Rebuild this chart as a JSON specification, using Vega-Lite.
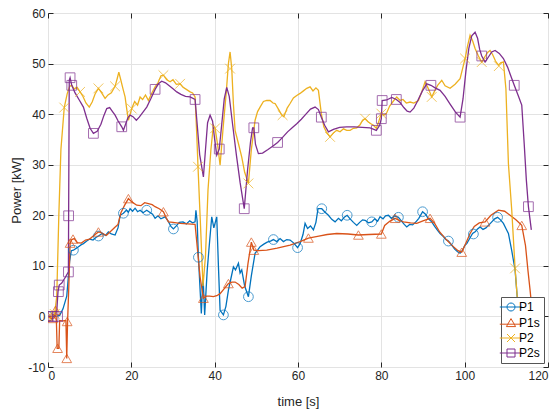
{
  "$schema": "https://vega.github.io/schema/vega-lite/v6.json",
  "width": 500,
  "height": 354,
  "autosize": {"type": "none"},
  "padding": {"left": 48, "top": 13, "right": 10, "bottom": 47},
  "background": "white",
  "config": {
    "font": "Liberation Sans",
    "view": {"stroke": "#262626", "strokeWidth": 1},
    "axis": {
      "grid": true,
      "gridColor": "#e3e3e3",
      "gridWidth": 1,
      "domain": false,
      "tickColor": "#262626",
      "tickSize": -5,
      "labelFontSize": 12,
      "labelColor": "#262626",
      "labelFont": "Liberation Sans",
      "titleFontSize": 13,
      "titleColor": "#262626",
      "titleFontWeight": "normal",
      "titleFont": "Liberation Sans"
    },
    "legend": {
      "orient": "bottom-right", "offset": 4, "padding": 4, "fillColor": "white", "strokeColor": "#555555",
      "labelFontSize": 12, "labelColor": "#000000", "labelFont": "Liberation Sans", "rowPadding": 3, "labelOffset": 2,
      "symbolOpacity": 1, "symbolSize": 64, "symbolStrokeWidth": 1
    }
  },
  "datasets": {
    "lines": [
      {"s":"P1","t":0,"y":0},{"s":"P1","t":1,"y":0},{"s":"P1","t":2,"y":0},{"s":"P1","t":2.8,"y":0.2},{"s":"P1","t":3.6,"y":1.5},{"s":"P1","t":4.5,"y":4},{"s":"P1","t":5.2,"y":11},{"s":"P1","t":5.6,"y":13},{"s":"P1","t":6.1,"y":13.1},{"s":"P1","t":7,"y":13.6},{"s":"P1","t":8,"y":14.2},{"s":"P1","t":8.5,"y":14.4},{"s":"P1","t":9.3,"y":14.9},{"s":"P1","t":10,"y":15.3},{"s":"P1","t":10.8,"y":15.1},{"s":"P1","t":11.5,"y":15.6},{"s":"P1","t":12.1,"y":15.9},{"s":"P1","t":13,"y":16.4},{"s":"P1","t":13.8,"y":16},{"s":"P1","t":14.5,"y":16.7},{"s":"P1","t":15.2,"y":16.3},{"s":"P1","t":16.1,"y":16.1},{"s":"P1","t":16.8,"y":17.5},{"s":"P1","t":17.3,"y":20},{"s":"P1","t":18.1,"y":20.4},{"s":"P1","t":18.8,"y":21},{"s":"P1","t":19.3,"y":20.6},{"s":"P1","t":19.7,"y":21.3},{"s":"P1","t":20.3,"y":20.8},{"s":"P1","t":20.9,"y":21.4},{"s":"P1","t":21.5,"y":20.7},{"s":"P1","t":22.1,"y":21},{"s":"P1","t":22.8,"y":20.5},{"s":"P1","t":23.7,"y":21},{"s":"P1","t":24.4,"y":20.6},{"s":"P1","t":25.1,"y":20.2},{"s":"P1","t":25.7,"y":19.4},{"s":"P1","t":26.4,"y":19.9},{"s":"P1","t":27.1,"y":19.3},{"s":"P1","t":28.1,"y":19.7},{"s":"P1","t":28.8,"y":18.9},{"s":"P1","t":29.5,"y":17.8},{"s":"P1","t":30.1,"y":17.3},{"s":"P1","t":30.8,"y":17.9},{"s":"P1","t":31.5,"y":18.6},{"s":"P1","t":32.4,"y":18.7},{"s":"P1","t":33.2,"y":18.3},{"s":"P1","t":34,"y":18.9},{"s":"P1","t":34.7,"y":18.5},{"s":"P1","t":35.3,"y":18.7},{"s":"P1","t":35.5,"y":21},{"s":"P1","t":35.8,"y":18.8},{"s":"P1","t":36.1,"y":11.7},{"s":"P1","t":36.8,"y":0.6},{"s":"P1","t":37.2,"y":8},{"s":"P1","t":37.6,"y":0.3},{"s":"P1","t":38.2,"y":9},{"s":"P1","t":38.7,"y":14},{"s":"P1","t":39.3,"y":19.7},{"s":"P1","t":39.8,"y":17.5},{"s":"P1","t":40.5,"y":19.7},{"s":"P1","t":40.9,"y":10},{"s":"P1","t":41.3,"y":1.2},{"s":"P1","t":42.1,"y":0.3},{"s":"P1","t":42.7,"y":2},{"s":"P1","t":43.3,"y":5.2},{"s":"P1","t":43.9,"y":7.5},{"s":"P1","t":44.5,"y":9.8},{"s":"P1","t":45,"y":9.2},{"s":"P1","t":45.7,"y":10.5},{"s":"P1","t":46.1,"y":8.6},{"s":"P1","t":46.5,"y":9.2},{"s":"P1","t":47.2,"y":6},{"s":"P1","t":48.1,"y":3.9},{"s":"P1","t":48.8,"y":8},{"s":"P1","t":49.7,"y":12.5},{"s":"P1","t":50.3,"y":13.1},{"s":"P1","t":50.9,"y":13.8},{"s":"P1","t":51.8,"y":14.3},{"s":"P1","t":52.6,"y":14.7},{"s":"P1","t":53.4,"y":14.9},{"s":"P1","t":54.1,"y":15.2},{"s":"P1","t":54.9,"y":14.8},{"s":"P1","t":55.7,"y":15.4},{"s":"P1","t":56.5,"y":14.8},{"s":"P1","t":57.3,"y":15.2},{"s":"P1","t":58.1,"y":15.1},{"s":"P1","t":59,"y":14.5},{"s":"P1","t":59.9,"y":13.6},{"s":"P1","t":60.5,"y":14.4},{"s":"P1","t":61.2,"y":16.2},{"s":"P1","t":61.7,"y":18.4},{"s":"P1","t":62.3,"y":17.4},{"s":"P1","t":63,"y":17.9},{"s":"P1","t":63.7,"y":17.1},{"s":"P1","t":64.3,"y":18.6},{"s":"P1","t":64.8,"y":21.3},{"s":"P1","t":65.7,"y":21.3},{"s":"P1","t":66.5,"y":20.6},{"s":"P1","t":67.3,"y":20},{"s":"P1","t":68.1,"y":19.2},{"s":"P1","t":68.9,"y":18.7},{"s":"P1","t":69.7,"y":19.4},{"s":"P1","t":70.4,"y":18.9},{"s":"P1","t":71.1,"y":19.6},{"s":"P1","t":71.8,"y":20},{"s":"P1","t":72.5,"y":19.3},{"s":"P1","t":73.3,"y":18.6},{"s":"P1","t":74.1,"y":18},{"s":"P1","t":74.8,"y":18.6},{"s":"P1","t":75.5,"y":19.1},{"s":"P1","t":76.1,"y":19},{"s":"P1","t":76.9,"y":18.5},{"s":"P1","t":77.7,"y":18.7},{"s":"P1","t":78.4,"y":19.3},{"s":"P1","t":79.1,"y":18.8},{"s":"P1","t":79.7,"y":19.7},{"s":"P1","t":80.4,"y":19.3},{"s":"P1","t":81,"y":19.9},{"s":"P1","t":81.7,"y":20},{"s":"P1","t":82.4,"y":19.4},{"s":"P1","t":83.2,"y":19.9},{"s":"P1","t":84.1,"y":19.6},{"s":"P1","t":84.8,"y":18.9},{"s":"P1","t":85.5,"y":18.2},{"s":"P1","t":86.1,"y":17.7},{"s":"P1","t":86.8,"y":18.2},{"s":"P1","t":87.5,"y":18.1},{"s":"P1","t":88.2,"y":18.6},{"s":"P1","t":89,"y":19.4},{"s":"P1","t":89.9,"y":20.7},{"s":"P1","t":90.6,"y":20.2},{"s":"P1","t":91.3,"y":19.3},{"s":"P1","t":92.1,"y":18.7},{"s":"P1","t":92.8,"y":17.8},{"s":"P1","t":93.5,"y":17},{"s":"P1","t":94.1,"y":16.4},{"s":"P1","t":94.9,"y":15.8},{"s":"P1","t":95.5,"y":15.2},{"s":"P1","t":96.1,"y":14.9},{"s":"P1","t":96.9,"y":14.1},{"s":"P1","t":97.6,"y":13.3},{"s":"P1","t":98.3,"y":12.8},{"s":"P1","t":98.9,"y":12.5},{"s":"P1","t":99.5,"y":13.1},{"s":"P1","t":100,"y":14},{"s":"P1","t":100.5,"y":14.4},{"s":"P1","t":101.2,"y":15.4},{"s":"P1","t":101.9,"y":16.4},{"s":"P1","t":102.6,"y":16.8},{"s":"P1","t":103.1,"y":17.3},{"s":"P1","t":103.7,"y":17.7},{"s":"P1","t":104.4,"y":17.2},{"s":"P1","t":105.1,"y":17.5},{"s":"P1","t":105.7,"y":18},{"s":"P1","t":106.4,"y":18.6},{"s":"P1","t":107.2,"y":19.3},{"s":"P1","t":107.9,"y":19.6},{"s":"P1","t":108.6,"y":19.1},{"s":"P1","t":109.3,"y":18.4},{"s":"P1","t":109.9,"y":17.4},{"s":"P1","t":110.5,"y":16.4},{"s":"P1","t":111.3,"y":13},{"s":"P1","t":112.1,"y":9.2},{"s":"P1","t":112.6,"y":4},{"s":"P1","t":113,"y":0.5},
      {"s":"P1s","t":0,"y":0},{"s":"P1s","t":0.8,"y":-0.4},{"s":"P1s","t":1.5,"y":-0.3},{"s":"P1s","t":1.8,"y":1.2},{"s":"P1s","t":2.0,"y":-0.5},{"s":"P1s","t":2.2,"y":-6.3},{"s":"P1s","t":2.6,"y":-6.3},{"s":"P1s","t":2.8,"y":-0.8},{"s":"P1s","t":3.5,"y":-0.9},{"s":"P1s","t":4.3,"y":-0.8},{"s":"P1s","t":4.5,"y":-8.3},{"s":"P1s","t":4.7,"y":-1.0},{"s":"P1s","t":5.0,"y":6},{"s":"P1s","t":5.3,"y":14.5},{"s":"P1s","t":5.7,"y":15.2},{"s":"P1s","t":6.3,"y":15.4},{"s":"P1s","t":7,"y":14.6},{"s":"P1s","t":8,"y":14.5},{"s":"P1s","t":9,"y":15.1},{"s":"P1s","t":10,"y":15.3},{"s":"P1s","t":11,"y":16},{"s":"P1s","t":12.1,"y":16.7},{"s":"P1s","t":13,"y":16.5},{"s":"P1s","t":14,"y":16},{"s":"P1s","t":15,"y":16.8},{"s":"P1s","t":16,"y":17.6},{"s":"P1s","t":16.8,"y":18.2},{"s":"P1s","t":17.5,"y":20.5},{"s":"P1s","t":18.4,"y":22},{"s":"P1s","t":19.3,"y":23.3},{"s":"P1s","t":20.2,"y":22.6},{"s":"P1s","t":21.3,"y":22},{"s":"P1s","t":22.3,"y":21.9},{"s":"P1s","t":23.2,"y":22.5},{"s":"P1s","t":24.1,"y":22.3},{"s":"P1s","t":25,"y":22.1},{"s":"P1s","t":25.7,"y":21.7},{"s":"P1s","t":26.7,"y":21.3},{"s":"P1s","t":27.7,"y":20.7},{"s":"P1s","t":28.3,"y":19.6},{"s":"P1s","t":28.9,"y":18.7},{"s":"P1s","t":30,"y":18.6},{"s":"P1s","t":31.7,"y":18.4},{"s":"P1s","t":33.5,"y":18.3},{"s":"P1s","t":35.3,"y":18.2},{"s":"P1s","t":35.9,"y":13},{"s":"P1s","t":36.5,"y":7.8},{"s":"P1s","t":37.3,"y":3.6},{"s":"P1s","t":38,"y":4},{"s":"P1s","t":38.8,"y":4},{"s":"P1s","t":39.7,"y":3.9},{"s":"P1s","t":40.5,"y":4.1},{"s":"P1s","t":41.3,"y":4.5},{"s":"P1s","t":42.3,"y":5.5},{"s":"P1s","t":43.3,"y":6.5},{"s":"P1s","t":44.1,"y":6.8},{"s":"P1s","t":44.9,"y":6.8},{"s":"P1s","t":45.8,"y":6.3},{"s":"P1s","t":46.6,"y":5.6},{"s":"P1s","t":47.3,"y":5.9},{"s":"P1s","t":48,"y":10.5},{"s":"P1s","t":48.8,"y":14.7},{"s":"P1s","t":49.4,"y":13.1},{"s":"P1s","t":50.5,"y":13},{"s":"P1s","t":52.5,"y":13.1},{"s":"P1s","t":55,"y":13.5},{"s":"P1s","t":58.1,"y":14.1},{"s":"P1s","t":60.5,"y":14.8},{"s":"P1s","t":62.5,"y":15.5},{"s":"P1s","t":65,"y":15.9},{"s":"P1s","t":67,"y":16.2},{"s":"P1s","t":69.3,"y":16.4},{"s":"P1s","t":72,"y":16.3},{"s":"P1s","t":74.5,"y":16.1},{"s":"P1s","t":77,"y":16.2},{"s":"P1s","t":80,"y":16.3},{"s":"P1s","t":80.8,"y":18.0},{"s":"P1s","t":82,"y":18.8},{"s":"P1s","t":83.3,"y":19.4},{"s":"P1s","t":84.3,"y":19},{"s":"P1s","t":85.3,"y":18.7},{"s":"P1s","t":87,"y":18.5},{"s":"P1s","t":88.5,"y":18.4},{"s":"P1s","t":90,"y":18.9},{"s":"P1s","t":91.7,"y":19.4},{"s":"P1s","t":92.8,"y":18.4},{"s":"P1s","t":94,"y":16.7},{"s":"P1s","t":95.7,"y":15.1},{"s":"P1s","t":97.3,"y":13.8},{"s":"P1s","t":98.4,"y":13},{"s":"P1s","t":99.3,"y":12.7},{"s":"P1s","t":100.3,"y":14.5},{"s":"P1s","t":101.3,"y":16.4},{"s":"P1s","t":102.3,"y":17.8},{"s":"P1s","t":103.5,"y":18.5},{"s":"P1s","t":104.9,"y":18.7},{"s":"P1s","t":106.3,"y":20},{"s":"P1s","t":108.1,"y":21},{"s":"P1s","t":109.6,"y":20.8},{"s":"P1s","t":110.9,"y":20},{"s":"P1s","t":112.3,"y":19.1},{"s":"P1s","t":113.7,"y":18},{"s":"P1s","t":114.6,"y":14},{"s":"P1s","t":115.2,"y":9},{"s":"P1s","t":115.7,"y":5.2},{"s":"P1s","t":116.2,"y":1},{"s":"P1s","t":116.6,"y":-1},
      {"s":"P2","t":0,"y":0},{"s":"P2","t":1,"y":0},{"s":"P2","t":1.6,"y":0.5},{"s":"P2","t":2.1,"y":4},{"s":"P2","t":2.6,"y":20},{"s":"P2","t":3.1,"y":33},{"s":"P2","t":3.9,"y":41.3},{"s":"P2","t":4.6,"y":44},{"s":"P2","t":5.2,"y":45.5},{"s":"P2","t":5.7,"y":45.7},{"s":"P2","t":6.3,"y":45},{"s":"P2","t":7,"y":45.3},{"s":"P2","t":7.7,"y":44.4},{"s":"P2","t":8.4,"y":43.5},{"s":"P2","t":9.1,"y":42.2},{"s":"P2","t":9.9,"y":41.4},{"s":"P2","t":10.6,"y":42.4},{"s":"P2","t":11.3,"y":44},{"s":"P2","t":12.1,"y":45.1},{"s":"P2","t":12.8,"y":44.3},{"s":"P2","t":13.7,"y":43.1},{"s":"P2","t":14.4,"y":43.8},{"s":"P2","t":15.2,"y":44.2},{"s":"P2","t":16.1,"y":45.5},{"s":"P2","t":16.6,"y":47},{"s":"P2","t":17,"y":48.3},{"s":"P2","t":17.4,"y":47},{"s":"P2","t":18,"y":45},{"s":"P2","t":18.5,"y":43.4},{"s":"P2","t":18.9,"y":41},{"s":"P2","t":19.3,"y":38.8},{"s":"P2","t":20.1,"y":41.1},{"s":"P2","t":20.8,"y":42.5},{"s":"P2","t":21.5,"y":41.8},{"s":"P2","t":22.1,"y":43.4},{"s":"P2","t":22.7,"y":42.9},{"s":"P2","t":23.4,"y":43.8},{"s":"P2","t":24.1,"y":42.7},{"s":"P2","t":24.8,"y":44},{"s":"P2","t":25.7,"y":45.4},{"s":"P2","t":26.4,"y":46.2},{"s":"P2","t":27.1,"y":47.6},{"s":"P2","t":27.7,"y":47.7},{"s":"P2","t":28.5,"y":46.8},{"s":"P2","t":29.3,"y":46.4},{"s":"P2","t":30,"y":46.8},{"s":"P2","t":30.8,"y":45.9},{"s":"P2","t":31.7,"y":46.0},{"s":"P2","t":32.4,"y":45.3},{"s":"P2","t":33.2,"y":44.9},{"s":"P2","t":34.1,"y":44.4},{"s":"P2","t":34.7,"y":44.2},{"s":"P2","t":35.3,"y":43.4},{"s":"P2","t":35.7,"y":36},{"s":"P2","t":36,"y":29.6},{"s":"P2","t":36.6,"y":18},{"s":"P2","t":37.2,"y":6},{"s":"P2","t":37.8,"y":12},{"s":"P2","t":38.4,"y":25},{"s":"P2","t":39.1,"y":33},{"s":"P2","t":39.7,"y":37.8},{"s":"P2","t":40.1,"y":37.2},{"s":"P2","t":40.7,"y":34},{"s":"P2","t":41.3,"y":29.9},{"s":"P2","t":42,"y":37},{"s":"P2","t":42.8,"y":44.5},{"s":"P2","t":43.3,"y":50},{"s":"P2","t":43.7,"y":52.3},{"s":"P2","t":44.1,"y":49},{"s":"P2","t":44.5,"y":42},{"s":"P2","t":44.9,"y":36.8},{"s":"P2","t":45.7,"y":34.2},{"s":"P2","t":46.5,"y":31.5},{"s":"P2","t":47.2,"y":28.5},{"s":"P2","t":48.1,"y":26.3},{"s":"P2","t":48.8,"y":33},{"s":"P2","t":49.7,"y":38.8},{"s":"P2","t":50.3,"y":40.5},{"s":"P2","t":50.9,"y":41.4},{"s":"P2","t":51.7,"y":42.5},{"s":"P2","t":52.5,"y":42.7},{"s":"P2","t":53.3,"y":42.7},{"s":"P2","t":54,"y":42.2},{"s":"P2","t":54.5,"y":42.1},{"s":"P2","t":55.3,"y":41},{"s":"P2","t":56.1,"y":39.8},{"s":"P2","t":56.6,"y":39.5},{"s":"P2","t":57.4,"y":41.2},{"s":"P2","t":58.1,"y":42.1},{"s":"P2","t":58.9,"y":43.2},{"s":"P2","t":59.7,"y":43.7},{"s":"P2","t":60.5,"y":44.1},{"s":"P2","t":61.3,"y":44.6},{"s":"P2","t":62.1,"y":45.1},{"s":"P2","t":62.9,"y":45.4},{"s":"P2","t":63.6,"y":44.6},{"s":"P2","t":64.3,"y":45.2},{"s":"P2","t":64.9,"y":44.7},{"s":"P2","t":65.6,"y":40.1},{"s":"P2","t":66.2,"y":37.5},{"s":"P2","t":66.8,"y":36.5},{"s":"P2","t":67.7,"y":35.5},{"s":"P2","t":68.5,"y":36.3},{"s":"P2","t":69.3,"y":36.8},{"s":"P2","t":70.1,"y":36.5},{"s":"P2","t":70.9,"y":37.1},{"s":"P2","t":71.7,"y":36.8},{"s":"P2","t":72.5,"y":36.8},{"s":"P2","t":73.3,"y":37.2},{"s":"P2","t":74.1,"y":37.3},{"s":"P2","t":74.9,"y":37.9},{"s":"P2","t":75.5,"y":38.8},{"s":"P2","t":76.1,"y":39.1},{"s":"P2","t":76.8,"y":38.5},{"s":"P2","t":77.5,"y":38.1},{"s":"P2","t":78.1,"y":37.8},{"s":"P2","t":78.8,"y":37.2},{"s":"P2","t":79.4,"y":38.6},{"s":"P2","t":80,"y":40.1},{"s":"P2","t":80.6,"y":39.8},{"s":"P2","t":81.2,"y":40.1},{"s":"P2","t":82,"y":41.6},{"s":"P2","t":82.9,"y":42.6},{"s":"P2","t":83.7,"y":43.4},{"s":"P2","t":84.5,"y":42.7},{"s":"P2","t":85.2,"y":42.9},{"s":"P2","t":86,"y":42.2},{"s":"P2","t":86.9,"y":42.4},{"s":"P2","t":87.8,"y":42.2},{"s":"P2","t":88.9,"y":42.7},{"s":"P2","t":89.7,"y":44.4},{"s":"P2","t":90.5,"y":46.4},{"s":"P2","t":91.3,"y":45},{"s":"P2","t":92.1,"y":43.4},{"s":"P2","t":92.8,"y":44.6},{"s":"P2","t":93.6,"y":45.8},{"s":"P2","t":94.5,"y":46.7},{"s":"P2","t":95.3,"y":45.6},{"s":"P2","t":96.5,"y":45.1},{"s":"P2","t":97.7,"y":45.9},{"s":"P2","t":98.9,"y":47},{"s":"P2","t":99.5,"y":49},{"s":"P2","t":100.1,"y":51},{"s":"P2","t":100.7,"y":53.5},{"s":"P2","t":101.3,"y":55.6},{"s":"P2","t":101.9,"y":54.5},{"s":"P2","t":102.5,"y":53},{"s":"P2","t":103.3,"y":51.5},{"s":"P2","t":104.1,"y":50.3},{"s":"P2","t":104.8,"y":51.3},{"s":"P2","t":105.5,"y":52.2},{"s":"P2","t":106.1,"y":52.6},{"s":"P2","t":106.7,"y":51.8},{"s":"P2","t":107.4,"y":50.5},{"s":"P2","t":108.1,"y":49.7},{"s":"P2","t":108.7,"y":50.2},{"s":"P2","t":109.3,"y":50.3},{"s":"P2","t":109.9,"y":45},{"s":"P2","t":110.5,"y":30.2},{"s":"P2","t":111.3,"y":21},{"s":"P2","t":112.1,"y":9.5},{"s":"P2","t":112.6,"y":4},{"s":"P2","t":113,"y":0},
      {"s":"P2s","t":0,"y":0},{"s":"P2s","t":1,"y":0},{"s":"P2s","t":1.6,"y":0},{"s":"P2s","t":2.1,"y":1},{"s":"P2s","t":2.4,"y":4.9},{"s":"P2s","t":2.7,"y":6.2},{"s":"P2s","t":3.3,"y":6.6},{"s":"P2s","t":4.2,"y":7.8},{"s":"P2s","t":4.9,"y":8.8},{"s":"P2s","t":4.95,"y":19.9},{"s":"P2s","t":5.1,"y":46.7},{"s":"P2s","t":5.3,"y":47.2},{"s":"P2s","t":5.7,"y":45.7},{"s":"P2s","t":6.5,"y":44.2},{"s":"P2s","t":7.5,"y":42.8},{"s":"P2s","t":8.5,"y":41.4},{"s":"P2s","t":9.3,"y":39.2},{"s":"P2s","t":10.1,"y":37.2},{"s":"P2s","t":10.9,"y":36.2},{"s":"P2s","t":11.8,"y":36.6},{"s":"P2s","t":12.7,"y":38},{"s":"P2s","t":13.4,"y":39.7},{"s":"P2s","t":14.1,"y":41.1},{"s":"P2s","t":14.8,"y":41.3},{"s":"P2s","t":15.4,"y":40.6},{"s":"P2s","t":16.1,"y":39.8},{"s":"P2s","t":16.8,"y":38.7},{"s":"P2s","t":17.7,"y":37.5},{"s":"P2s","t":18.1,"y":36.8},{"s":"P2s","t":18.7,"y":38.2},{"s":"P2s","t":19.2,"y":39.3},{"s":"P2s","t":19.7,"y":39.8},{"s":"P2s","t":20.4,"y":39.5},{"s":"P2s","t":21.2,"y":38.8},{"s":"P2s","t":21.9,"y":39.4},{"s":"P2s","t":22.8,"y":40.4},{"s":"P2s","t":23.7,"y":41.4},{"s":"P2s","t":24.7,"y":43.1},{"s":"P2s","t":25.7,"y":44.9},{"s":"P2s","t":26.5,"y":46},{"s":"P2s","t":27.3,"y":46.5},{"s":"P2s","t":28.2,"y":46.2},{"s":"P2s","t":29.1,"y":45.6},{"s":"P2s","t":30,"y":45},{"s":"P2s","t":30.9,"y":44.4},{"s":"P2s","t":31.9,"y":43.9},{"s":"P2s","t":33,"y":43.5},{"s":"P2s","t":34.1,"y":43.4},{"s":"P2s","t":35.3,"y":42.9},{"s":"P2s","t":35.8,"y":38},{"s":"P2s","t":36.4,"y":32},{"s":"P2s","t":37.3,"y":27.6},{"s":"P2s","t":37.8,"y":33},{"s":"P2s","t":38.3,"y":38.3},{"s":"P2s","t":38.9,"y":39.8},{"s":"P2s","t":39.5,"y":38.6},{"s":"P2s","t":40,"y":35},{"s":"P2s","t":40.5,"y":31.9},{"s":"P2s","t":41.1,"y":33.1},{"s":"P2s","t":41.7,"y":38},{"s":"P2s","t":42.3,"y":43},{"s":"P2s","t":42.9,"y":45.3},{"s":"P2s","t":43.5,"y":43.5},{"s":"P2s","t":44.3,"y":38},{"s":"P2s","t":45.2,"y":32},{"s":"P2s","t":46.1,"y":26.5},{"s":"P2s","t":47.1,"y":21.3},{"s":"P2s","t":47.9,"y":29},{"s":"P2s","t":48.6,"y":34.5},{"s":"P2s","t":49.1,"y":37.3},{"s":"P2s","t":49.4,"y":37.3},{"s":"P2s","t":49.8,"y":34},{"s":"P2s","t":50.5,"y":32.2},{"s":"P2s","t":51.5,"y":32.3},{"s":"P2s","t":52.8,"y":33},{"s":"P2s","t":54,"y":33.7},{"s":"P2s","t":55.1,"y":34.4},{"s":"P2s","t":56.3,"y":35.4},{"s":"P2s","t":57.5,"y":36.5},{"s":"P2s","t":58.6,"y":37.3},{"s":"P2s","t":59.7,"y":38.1},{"s":"P2s","t":60.8,"y":39},{"s":"P2s","t":61.9,"y":40},{"s":"P2s","t":63,"y":41},{"s":"P2s","t":64.1,"y":41.4},{"s":"P2s","t":64.9,"y":40.9},{"s":"P2s","t":65.6,"y":39.4},{"s":"P2s","t":66.4,"y":37.8},{"s":"P2s","t":67.3,"y":36.5},{"s":"P2s","t":68.5,"y":37},{"s":"P2s","t":70,"y":37.4},{"s":"P2s","t":71.7,"y":37.5},{"s":"P2s","t":73.5,"y":37.5},{"s":"P2s","t":75.4,"y":37.4},{"s":"P2s","t":77.3,"y":37.3},{"s":"P2s","t":78.8,"y":36.8},{"s":"P2s","t":79.6,"y":37.8},{"s":"P2s","t":80,"y":39.1},{"s":"P2s","t":80.2,"y":42.7},{"s":"P2s","t":81.3,"y":42.8},{"s":"P2s","t":82.5,"y":43.3},{"s":"P2s","t":83.6,"y":42.9},{"s":"P2s","t":84.5,"y":42.3},{"s":"P2s","t":85.4,"y":41.3},{"s":"P2s","t":86.2,"y":40.6},{"s":"P2s","t":86.9,"y":40.4},{"s":"P2s","t":87.8,"y":41.2},{"s":"P2s","t":88.7,"y":42.6},{"s":"P2s","t":89.8,"y":44.5},{"s":"P2s","t":90.9,"y":46},{"s":"P2s","t":91.9,"y":45.7},{"s":"P2s","t":92.9,"y":45.2},{"s":"P2s","t":94.1,"y":44.7},{"s":"P2s","t":95.3,"y":43.5},{"s":"P2s","t":96.5,"y":42},{"s":"P2s","t":97.8,"y":40.4},{"s":"P2s","t":98.9,"y":39.4},{"s":"P2s","t":99.6,"y":43},{"s":"P2s","t":100.3,"y":48.5},{"s":"P2s","t":101,"y":53},{"s":"P2s","t":101.7,"y":55.5},{"s":"P2s","t":102.5,"y":56.2},{"s":"P2s","t":103.1,"y":55},{"s":"P2s","t":103.6,"y":52.8},{"s":"P2s","t":104.1,"y":51.5},{"s":"P2s","t":104.9,"y":50.3},{"s":"P2s","t":105.7,"y":51.3},{"s":"P2s","t":106.5,"y":52.3},{"s":"P2s","t":107.3,"y":52.6},{"s":"P2s","t":108.3,"y":52},{"s":"P2s","t":109.3,"y":51},{"s":"P2s","t":110.3,"y":49.3},{"s":"P2s","t":111.1,"y":47.5},{"s":"P2s","t":111.9,"y":45.7},{"s":"P2s","t":112.8,"y":43.8},{"s":"P2s","t":113.7,"y":41.8},{"s":"P2s","t":114.3,"y":34},{"s":"P2s","t":114.8,"y":27},{"s":"P2s","t":115.3,"y":21.7},{"s":"P2s","t":116,"y":17.1}
    ],
    "marks": [
      {"s":"P1","t":0,"y":0},{"s":"P1","t":6.1,"y":13.1},{"s":"P1","t":12.1,"y":15.9},{"s":"P1","t":18.1,"y":20.4},{"s":"P1","t":23.7,"y":21},{"s":"P1","t":30.1,"y":17.3},{"s":"P1","t":36.1,"y":11.7},{"s":"P1","t":42.1,"y":0.3},{"s":"P1","t":48.1,"y":3.9},{"s":"P1","t":54.1,"y":15.2},{"s":"P1","t":59.9,"y":13.6},{"s":"P1","t":65.7,"y":21.3},{"s":"P1","t":71.8,"y":20},{"s":"P1","t":77.7,"y":18.7},{"s":"P1","t":84.1,"y":19.6},{"s":"P1","t":89.9,"y":20.7},{"s":"P1","t":96.1,"y":14.9},{"s":"P1","t":102.1,"y":16.3},{"s":"P1","t":107.9,"y":19.6},
      {"s":"P1s","t":0,"y":0},{"s":"P1s","t":1.2,"y":-0.4},{"s":"P1s","t":1.8,"y":1.2},{"s":"P1s","t":2.3,"y":-6.3},{"s":"P1s","t":4.5,"y":-8.3},{"s":"P1s","t":4.6,"y":-1.0},{"s":"P1s","t":5.3,"y":14.5},{"s":"P1s","t":6,"y":15.3},{"s":"P1s","t":12.1,"y":16.7},{"s":"P1s","t":19.3,"y":23.3},{"s":"P1s","t":27.7,"y":20.7},{"s":"P1s","t":37.3,"y":3.6},{"s":"P1s","t":43.3,"y":6.5},{"s":"P1s","t":48.8,"y":14.7},{"s":"P1s","t":49.4,"y":13.1},{"s":"P1s","t":62.5,"y":15.5},{"s":"P1s","t":74.5,"y":16.1},{"s":"P1s","t":80,"y":16.3},{"s":"P1s","t":83.3,"y":19.4},{"s":"P1s","t":91.7,"y":19.4},{"s":"P1s","t":99.3,"y":12.7},{"s":"P1s","t":104.9,"y":18.7},{"s":"P1s","t":113.7,"y":18},
      {"s":"P2","t":0,"y":0},{"s":"P2","t":1.6,"y":0.5},{"s":"P2","t":3.9,"y":41.3},{"s":"P2","t":7.7,"y":44.4},{"s":"P2","t":12.1,"y":45.1},{"s":"P2","t":16.1,"y":45.5},{"s":"P2","t":20.1,"y":41.1},{"s":"P2","t":27.7,"y":47.7},{"s":"P2","t":31.7,"y":46},{"s":"P2","t":36,"y":29.6},{"s":"P2","t":40.1,"y":37.2},{"s":"P2","t":43.7,"y":49},{"s":"P2","t":48.1,"y":26.3},{"s":"P2","t":56.3,"y":39.8},{"s":"P2","t":67.7,"y":35.5},{"s":"P2","t":76.1,"y":39.1},{"s":"P2","t":80,"y":40.1},{"s":"P2","t":92.1,"y":43.4},{"s":"P2","t":100.1,"y":51},{"s":"P2","t":104.1,"y":50.3},{"s":"P2","t":108.2,"y":49.5},{"s":"P2","t":112.1,"y":9.5},
      {"s":"P2s","t":0,"y":0},{"s":"P2s","t":1.2,"y":0},{"s":"P2s","t":2.3,"y":0},{"s":"P2s","t":2.5,"y":4.9},{"s":"P2s","t":2.7,"y":6.2},{"s":"P2s","t":4.9,"y":8.8},{"s":"P2s","t":4.95,"y":19.9},{"s":"P2s","t":5.3,"y":47.2},{"s":"P2s","t":5.7,"y":45.7},{"s":"P2s","t":10.9,"y":36.2},{"s":"P2s","t":17.7,"y":37.5},{"s":"P2s","t":25.7,"y":44.9},{"s":"P2s","t":35.3,"y":42.9},{"s":"P2s","t":41.1,"y":33.1},{"s":"P2s","t":47.1,"y":21.3},{"s":"P2s","t":49.4,"y":37.3},{"s":"P2s","t":55.1,"y":34.4},{"s":"P2s","t":65.6,"y":39.4},{"s":"P2s","t":78.8,"y":36.8},{"s":"P2s","t":80,"y":39.1},{"s":"P2s","t":80.2,"y":42.7},{"s":"P2s","t":83.6,"y":42.9},{"s":"P2s","t":91.9,"y":45.7},{"s":"P2s","t":98.9,"y":39.4},{"s":"P2s","t":104.1,"y":51.5},{"s":"P2s","t":111.9,"y":45.7},{"s":"P2s","t":115.3,"y":21.7}
    ]
  },
  "layer": [
    {
      "data": {"name": "lines"},
      "mark": {"type": "line", "strokeWidth": 1.3, "clip": true},
      "encoding": {
        "x": {"field": "t", "type": "quantitative", "scale": {"domain": [0, 120], "nice": false},
              "axis": {"values": [0, 20, 40, 60, 80, 100, 120], "title": "time [s]", "labelPadding": 8, "titlePadding": 14}},
        "y": {"field": "y", "type": "quantitative", "scale": {"domain": [-10, 60], "nice": false},
              "axis": {"values": [-10, 0, 10, 20, 30, 40, 50, 60], "title": "Power [kW]", "labelExpr": "datum.value + ''", "labelPadding": 8, "titlePadding": 4}},
        "color": {"field": "s", "type": "nominal", "title": null, "legend": null,
                  "scale": {"domain": ["P1", "P1s", "P2", "P2s"], "range": ["#0072BD", "#D95319", "#EDB120", "#7E2F8E"]}},
        "order": {"field": "t", "type": "quantitative"}
      }
    },
    {
      "data": {"name": "marks"},
      "mark": {"type": "point", "filled": false, "strokeWidth": 1, "size": 95, "clip": true},
      "encoding": {
        "x": {"field": "t", "type": "quantitative", "axis": {"orient": "top", "labels": false, "title": null, "grid": false, "values": [0, 20, 40, 60, 80, 100, 120]}},
        "y": {"field": "y", "type": "quantitative", "axis": {"orient": "right", "labels": false, "title": null, "grid": false, "values": [-10, 0, 10, 20, 30, 40, 50, 60]}},
        "color": {"field": "s", "type": "nominal", "title": null, "legend": null,
                  "scale": {"domain": ["P1", "P1s", "P2", "P2s"], "range": ["#0072BD", "#D95319", "#EDB120", "#7E2F8E"]}},
        "shape": {"field": "s", "type": "nominal", "title": null, "legend": null,
                  "scale": {"domain": ["P1", "P1s", "P2", "P2s"], "range": ["circle", "triangle-up", "M-1,-1L1,1M-1,1L1,-1", "square"]}}
      }
    },
    {
      "data": {"name": "marks"},
      "mark": {"type": "point", "filled": false, "strokeWidth": 1, "size": 64, "opacity": 0},
      "encoding": {
        "x": {"field": "t", "type": "quantitative", "axis": null},
        "y": {"field": "y", "type": "quantitative", "axis": null},
        "color": {"field": "s", "type": "nominal", "title": null,
                  "legend": {"orient": "bottom-right", "offset": 4},
                  "scale": {"domain": ["P1", "P1s", "P2", "P2s"], "range": ["#0072BD", "#D95319", "#EDB120", "#7E2F8E"]}},
        "shape": {"field": "s", "type": "nominal", "title": null,
                  "legend": {"orient": "bottom-right", "offset": 4},
                  "scale": {"domain": ["P1", "P1s", "P2", "P2s"], "range": ["M-2.8,0L2.8,0M-1,0A1,1,0,1,1,1,0A1,1,0,1,1,-1,0", "M-2.8,0.3L2.8,0.3M0,-1.1L1.15,0.9L-1.15,0.9Z", "M-2.8,0L2.8,0M-1,-1L1,1M-1,1L1,-1", "M-2.8,0L2.8,0M-1,-1L1,-1L1,1L-1,1Z"]}}
      }
    }
  ],
  "resolve": {"axis": {"x": "independent", "y": "independent"}, "scale": {"shape": "independent", "color": "independent"}}
}
